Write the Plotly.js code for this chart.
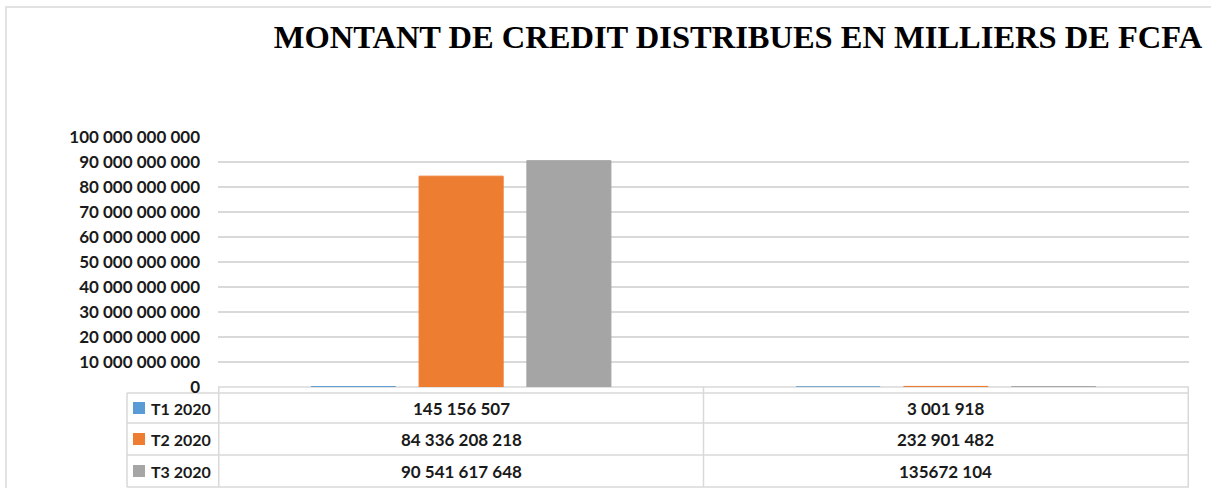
<!DOCTYPE html>
<html>
<head>
<meta charset="utf-8">
<script src="https://cdn.plot.ly/plotly-3.0.1.min.js"></script>
<style>
html,body{margin:0;padding:0;background:#fff;}
#chart{width:1211px;height:488px;}
</style>
</head>
<body>
<div id="chart"></div>
<script>
// ---- data ----
const categories = ['Colonne 1', 'Colonne 2'];
const seriesNames = ['T1 2020', 'T2 2020', 'T3 2020'];
const t1Values = [145156507, 3001918];
const t2Values = [84336208218, 232901482];
const t3Values = [90541617648, 135672104];
const t1Labels = ['145 156 507', '3 001 918'];
const t2Labels = ['84 336 208 218', '232 901 482'];
const t3Labels = ['90 541 617 648', '135672 104'];
const chartTitle = 'MONTANT DE CREDIT DISTRIBUES EN MILLIERS DE FCFA';

// ---- styles ----
const colors = ['#5b9bd5', '#ed7d31', '#a5a5a5'];
const gridColor = '#d9d9d9';
const W = 1211, H = 488;
const L = 218, R = 1189, T = 137, B = 387;
const px = x => (x - L) / (R - L);
const py = y => (B - y) / (B - T);
const bodyFont = {family: 'Lato, "Open Sans", sans-serif', size: 17, color: '#1a1a1a', weight: 'bold'};
const labelFont = {family: 'Lato, "Open Sans", sans-serif', size: 16, color: '#1a1a1a', weight: 'bold'};

const allValues = [t1Values, t2Values, t3Values];
const allLabels = [t1Labels, t2Labels, t3Labels];

const traces = allValues.map((vals, i) => ({
  type: 'bar',
  name: seriesNames[i],
  x: categories,
  y: vals,
  marker: {color: colors[i], line: {color: colors[i], width: 1}},
  hoverinfo: 'skip'
}));

// table geometry (pixel rows)
const rowTops = [393, 423, 455];
const rowBottom = 487;
const shapes = [];
const annotations = [];
const line = (x0, y0, x1, y1, xref) => shapes.push({
  type: 'line', xref: xref || 'paper', yref: 'paper',
  x0: x0, x1: x1, y0: py(y0), y1: py(y1),
  line: {color: gridColor, width: 1.5}, layer: 'below'
});
// outer frame
shapes.push({type: 'rect', xref: 'paper', yref: 'paper', x0: px(6), x1: px(1230), y0: py(7), y1: py(500),
  line: {color: gridColor, width: 1.5}, fillcolor: 'rgba(0,0,0,0)', layer: 'below'});
// horizontal table lines
line(px(218), 387, px(1189), 387);
line(px(127), 393, px(1189), 393);
line(px(127), 423, px(1189), 423);
line(px(127), 455, px(1189), 455);
line(px(127), 487, px(1189), 487);
// vertical lines
line(px(127), 393, px(127), 487);
line(-0.5, 387, -0.5, 487, 'x');
line(0.5, 387, 0.5, 487, 'x');
line(1.5, 387, 1.5, 487, 'x');

seriesNames.forEach((name, i) => {
  const top = rowTops[i];
  const bot = i < 2 ? rowTops[i + 1] : rowBottom;
  const mid = (top + bot) / 2;
  shapes.push({type: 'rect', xref: 'paper', yref: 'paper',
    x0: px(133), x1: px(145), y0: py(mid - 6), y1: py(mid + 6),
    fillcolor: colors[i], line: {width: 0}});
  annotations.push({xref: 'paper', yref: 'paper', x: px(149), y: py(mid),
    xanchor: 'left', yanchor: 'middle', showarrow: false, text: name, font: labelFont});
  categories.forEach((c, j) => {
    annotations.push({xref: 'x', yref: 'paper', x: j, y: py(mid),
      xanchor: 'center', yanchor: 'middle', showarrow: false, text: allLabels[i][j], font: bodyFont});
  });
});

const layout = {
  width: W, height: H,
  margin: {l: L, r: W - R, t: T, b: H - B, pad: 0},
  paper_bgcolor: '#ffffff', plot_bgcolor: '#ffffff',
  separators: ', ',
  showlegend: false,
  barmode: 'group',
  bargap: 0.333,
  bargroupgap: 0.22,
  title: {
    text: chartTitle,
    font: {family: '"Liberation Serif", "Times New Roman", serif', size: 32.5, color: '#000', weight: 'bold'},
    xref: 'container', yref: 'container',
    x: 738 / W, xanchor: 'center',
    y: 1 - 37 / H, yanchor: 'middle'
  },
  xaxis: {
    type: 'category', showticklabels: false, showgrid: false, zeroline: false,
    showline: false, ticks: '', fixedrange: true
  },
  yaxis: {
    range: [0, 1e11], dtick: 1e10, tick0: 0, tickformat: ',d',
    showgrid: true, gridcolor: gridColor, gridwidth: 1.5,
    zeroline: false, showline: false, ticks: '',
    tickfont: bodyFont, ticklabelstandoff: 17, fixedrange: true
  },
  shapes: shapes,
  annotations: annotations
};

Plotly.newPlot('chart', traces, layout, {displayModeBar: false, staticPlot: true});
</script>
</body>
</html>
